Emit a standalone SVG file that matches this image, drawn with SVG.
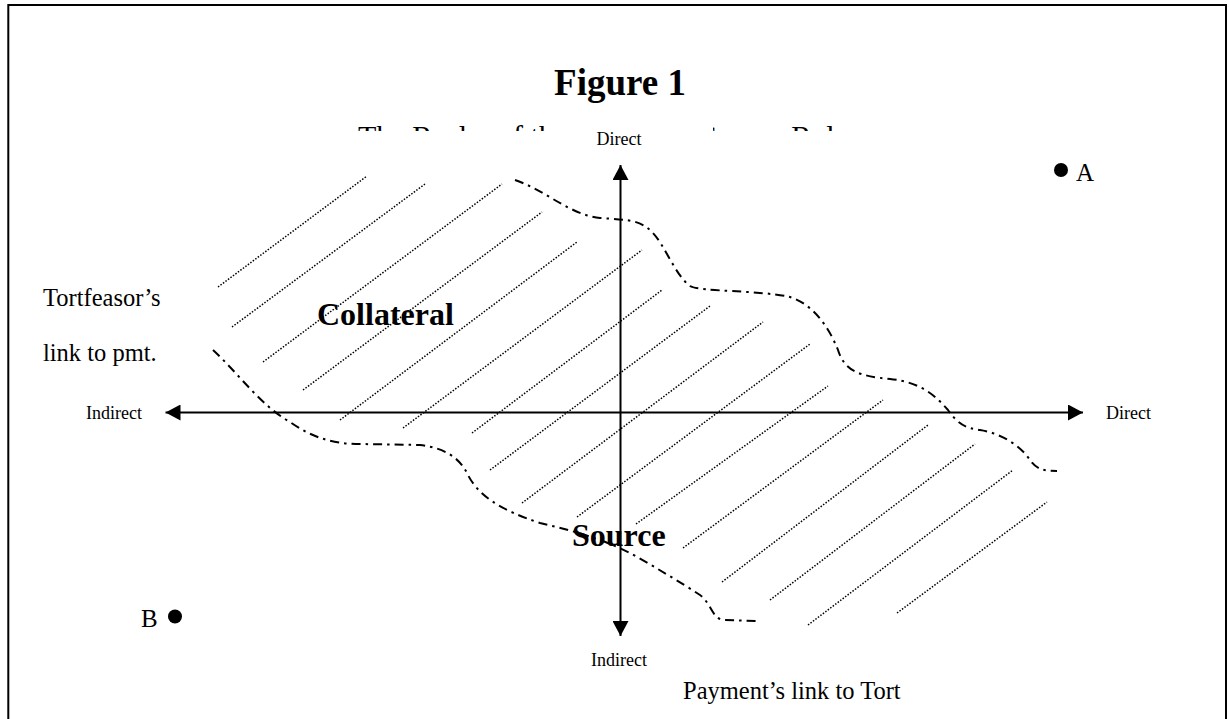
<svg xmlns="http://www.w3.org/2000/svg" width="1229" height="719" viewBox="0 0 1229 719">
  <style>
    .serif { font-family: "Liberation Serif", "Times New Roman", serif; fill: #000; }
    .small { font-size: 18px; }
    .mid { font-size: 24.5px; }
    .big { font-size: 32px; font-weight: bold; }
    .axis { stroke: #000; stroke-width: 2; fill: none; }
    .hatch { stroke: #000; stroke-width: 1.5; stroke-dasharray: 1.5 1.6; fill: none; }
    .bound { stroke: #000; stroke-width: 2; stroke-dasharray: 9 5 2.5 5; fill: none; }
  </style>
  <defs>
    <marker id="arrow" viewBox="0 0 15 16" refX="15" refY="8" markerWidth="15" markerHeight="16" markerUnits="userSpaceOnUse" orient="auto-start-reverse">
      <path d="M0,0 L15,8 L0,16 z" fill="#000"/>
    </marker>
    <clipPath id="subclip">
      <rect x="300" y="100" width="600" height="31"/>
    </clipPath>
  </defs>

  <rect width="1229" height="719" fill="#fff"/>

  <g id="frame">
    <rect x="8.3" y="5" width="1217.7" height="730" fill="none" stroke="#000" stroke-width="2"/>
  </g>

  <g id="title">
    <text class="serif" x="620" y="95" text-anchor="middle" font-size="37" font-weight="bold">Figure 1</text>
    <text class="serif" x="358" y="146" font-size="30" clip-path="url(#subclip)">The Realm of the Collateral Source Rule</text>
  </g>

  <g id="hatching">
    <line class="hatch" x1="218" y1="287" x2="367" y2="176"/>
    <line class="hatch" x1="232" y1="327" x2="425" y2="184"/>
    <line class="hatch" x1="263" y1="362" x2="502" y2="184"/>
    <line class="hatch" x1="303" y1="390" x2="542" y2="212"/>
    <line class="hatch" x1="340" y1="420" x2="577" y2="242"/>
    <line class="hatch" x1="403" y1="428" x2="642" y2="250"/>
    <line class="hatch" x1="472" y1="433" x2="662" y2="290"/>
    <line class="hatch" x1="490" y1="470" x2="710" y2="306"/>
    <line class="hatch" x1="522" y1="503" x2="763" y2="322"/>
    <line class="hatch" x1="577" y1="517" x2="810" y2="344"/>
    <line class="hatch" x1="636" y1="524" x2="828" y2="386"/>
    <line class="hatch" x1="683" y1="548" x2="883" y2="400"/>
    <line class="hatch" x1="722" y1="582" x2="928" y2="425"/>
    <line class="hatch" x1="770" y1="600" x2="975" y2="444"/>
    <line class="hatch" x1="808" y1="625" x2="1013" y2="470"/>
    <line class="hatch" x1="897" y1="613" x2="1047" y2="502"/>
  </g>

  <g id="boundary">
    <path class="bound" d="M515,180 C545,190 570,215 600,218 C630,220 640,220 652,232 C665,245 675,275 690,286 C700,292 760,290 790,297 C815,305 830,330 838,350 C845,372 860,376 890,379 C920,382 935,395 948,410 C958,424 965,428 980,430 C1000,433 1020,445 1030,460 C1037,470 1045,471 1057,471"/>
    <path class="bound" d="M213,350 C240,375 260,405 290,422 C310,436 330,444 360,444 L420,445 C445,448 460,458 468,475 C478,495 500,510 540,523 C570,530 600,538 630,553 C655,567 680,582 700,595 C712,604 712,620 725,620 L758,621"/>
  </g>

  <g id="connectors">
    <line class="axis" x1="620.5" y1="165" x2="620.5" y2="636" marker-start="url(#arrow)" marker-end="url(#arrow)"/>
    <line class="axis" x1="165.5" y1="412.5" x2="1083" y2="412.5" marker-start="url(#arrow)" marker-end="url(#arrow)"/>
  </g>

  <g id="axis-labels">
    <rect x="562" y="112" width="151" height="38" fill="#fff"/>
    <text class="serif small" x="619" y="145" text-anchor="middle">Direct</text>
    <text class="serif small" x="619" y="666" text-anchor="middle">Indirect</text>
    <text class="serif small" x="86" y="419">Indirect</text>
    <text class="serif small" x="1106" y="419">Direct</text>
  </g>

  <g id="side-labels">
    <text class="serif mid" x="43" y="306">Tortfeasor’s</text>
    <text class="serif mid" x="43" y="361">link to pmt.</text>
    <text class="serif mid" x="683" y="699">Payment’s link to Tort</text>
  </g>

  <g id="region-labels">
    <text class="serif big" x="317" y="325">Collateral</text>
    <text class="serif big" x="572" y="546">Source</text>
  </g>

  <g id="point-A">
    <circle cx="1061" cy="170" r="7" fill="#000"/>
    <text class="serif" x="1076" y="181" font-size="25">A</text>
  </g>

  <g id="point-B">
    <circle cx="175" cy="616.5" r="7" fill="#000"/>
    <text class="serif" x="141" y="627" font-size="25">B</text>
  </g>
</svg>
